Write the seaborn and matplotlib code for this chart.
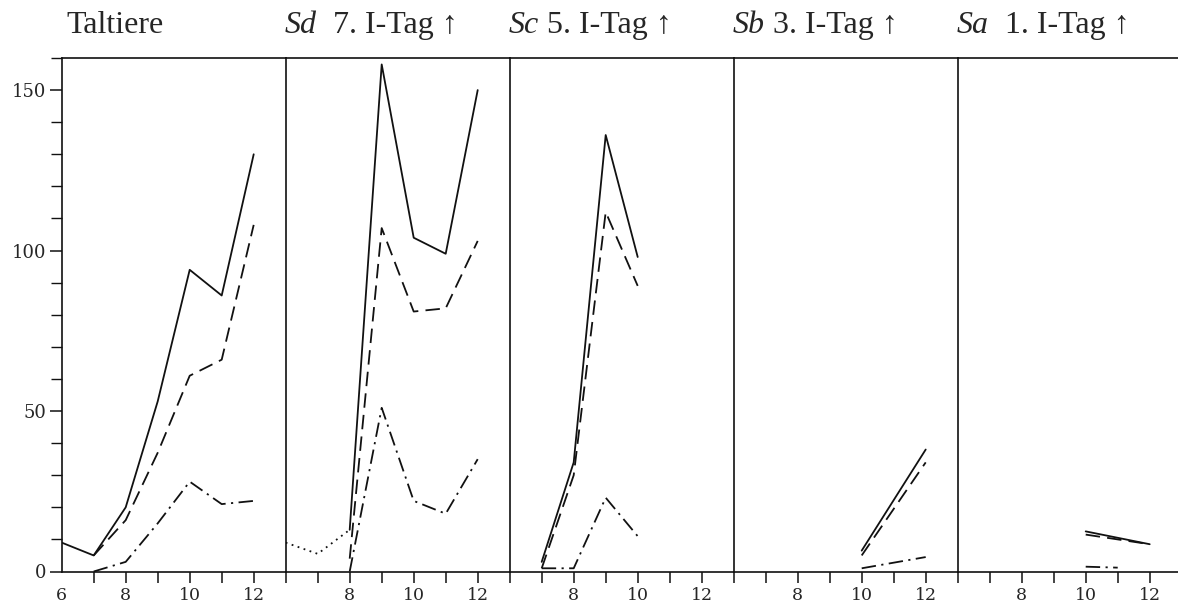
import matplotlib
matplotlib.use("Agg")
import matplotlib.pyplot as plt
from matplotlib.ticker import MultipleLocator
import seaborn as sns

sns.set_style("ticks")
plt.rcParams['font.family'] = ['DejaVu Serif', 'Liberation Serif']

# ---------------- data ----------------
panel_italic = ["", "Sd", "Sc", "Sb", "Sa"]
panel_rest = ["Taltiere", "  7. I-Tag \u2191", " 5. I-Tag \u2191", " 3. I-Tag \u2191", "  1. I-Tag \u2191"]

# Taltiere
p1_solid_x = [6, 7, 8, 9, 10, 11, 12]
p1_solid_y = [9, 5, 20, 53, 94, 86, 130]
p1_dash_x = [7, 8, 9, 10, 11, 12]
p1_dash_y = [5, 16, 37, 61, 66, 108]
p1_dd_x = [7, 8, 9, 10, 11, 12]
p1_dd_y = [0, 3, 15, 28, 21, 22]

# Sd 7. I-Tag
p2_dot_x = [6, 7, 8]
p2_dot_y = [9, 5.5, 13]
p2_solid_x = [8, 9, 10, 11, 12]
p2_solid_y = [13, 158, 104, 99, 150]
p2_dash_x = [8, 9, 10, 11, 12]
p2_dash_y = [4, 107, 81, 82, 103]
p2_dd_x = [8, 9, 10, 11, 12]
p2_dd_y = [0, 51, 22, 18, 35]

# Sc 5. I-Tag
p3_solid_x = [7, 8, 9, 10]
p3_solid_y = [3, 34, 136, 98]
p3_dash_x = [7, 8, 9, 10]
p3_dash_y = [1, 30, 112, 89]
p3_dd_x = [7, 8, 9, 10]
p3_dd_y = [1, 1, 23, 11]

# Sb 3. I-Tag
p4_solid_x = [10, 12]
p4_solid_y = [6.5, 38]
p4_dash_x = [10, 12]
p4_dash_y = [5, 34]
p4_dd_x = [10, 12]
p4_dd_y = [1, 4.5]

# Sa 1. I-Tag
p5_solid_x = [10, 12]
p5_solid_y = [12.5, 8.5]
p5_dash_x = [10, 12]
p5_dash_y = [11.5, 8.5]
p5_dd_x = [10, 11]
p5_dd_y = [1.5, 1.2]

panels = [
    [(p1_solid_x, p1_solid_y, "solid"), (p1_dash_x, p1_dash_y, "dash"), (p1_dd_x, p1_dd_y, "dashdot")],
    [(p2_dot_x, p2_dot_y, "dot"), (p2_solid_x, p2_solid_y, "solid"), (p2_dash_x, p2_dash_y, "dash"), (p2_dd_x, p2_dd_y, "dashdot")],
    [(p3_solid_x, p3_solid_y, "solid"), (p3_dash_x, p3_dash_y, "dash"), (p3_dd_x, p3_dd_y, "dashdot")],
    [(p4_solid_x, p4_solid_y, "solid"), (p4_dash_x, p4_dash_y, "dash"), (p4_dd_x, p4_dd_y, "dashdot")],
    [(p5_solid_x, p5_solid_y, "solid"), (p5_dash_x, p5_dash_y, "dash"), (p5_dd_x, p5_dd_y, "dashdot")],
]

styles = {
    "solid": "-",
    "dash": (0, (8, 4)),
    "dashdot": (0, (8, 3, 1.2, 3)),
    "dot": (0, (1, 2.5)),
}

# ---------------- layout ----------------
W, H = 1178, 604
fig = plt.figure(figsize=(W / 100, H / 100), dpi=100)
fig.patch.set_facecolor("white")

left0 = 61.7
pw = 224.0
bottom_px = 571.5
top_px = 58.0

title_font = ['Liberation Serif', 'DejaVu Serif']
axes = []
for i, series in enumerate(panels):
    ax = fig.add_axes([(left0 + i * pw) / W, (H - bottom_px) / H, pw / W, (bottom_px - top_px) / H])
    ax.set_facecolor("white")
    for xs, ys, st in series:
        sns.lineplot(x=xs, y=ys, ax=ax, color="#111111", linewidth=1.3,
                     linestyle=styles[st], errorbar=None, sort=False)
    ax.set_xlim(6, 13)
    ax.set_ylim(0, 160)
    for s in ["left", "top", "bottom"]:
        ax.spines[s].set_visible(True)
        ax.spines[s].set_color("#111111")
        ax.spines[s].set_linewidth(1.2)
    ax.spines["right"].set_visible(i == 4)
    ax.spines["right"].set_color("#111111")

    ax.set_xticks([6, 7, 8, 9, 10, 11, 12])
    if i == 0:
        ax.set_xticklabels(["6", "", "8", "", "10", "", "12"])
        ax.set_yticks([0, 50, 100, 150])
        ax.set_yticklabels(["0", "50", "100", "150"])
        ax.yaxis.set_minor_locator(MultipleLocator(10))
        ax.tick_params(axis="y", which="major", length=9, width=1.1, pad=2,
                       labelsize=13, direction="out", color="#111111")
        ax.tick_params(axis="y", which="minor", length=8, width=1.0, direction="out", color="#111111")
    else:
        ax.set_xticklabels(["", "", "8", "", "10", "", "12"])
        ax.set_yticks([])
        ax.tick_params(axis="y", left=False, labelleft=False)
    ax.tick_params(axis="x", which="major", length=8, width=1.1, pad=3,
                   labelsize=12.5, direction="out", color="#111111")
    if i == 0:
        ax.xaxis.get_major_ticks()[0].tick1line.set_visible(False)
    ax.set_xlabel("")
    ax.set_ylabel("")
    axes.append(ax)

# ---------------- titles ----------------
fig.canvas.draw()
renderer = fig.canvas.get_renderer()
title_base = 1 - 33.0 / H
for i in range(5):
    x0 = (left0 + i * pw + (5 if i == 0 else -1)) / W
    if panel_italic[i]:
        t = fig.text(x0, title_base, panel_italic[i], fontsize=23, style="italic",
                     family=title_font, va="baseline", ha="left")
        bb = t.get_window_extent(renderer=renderer)
        x1 = bb.x1 / W
        fig.text(x1, title_base, panel_rest[i], fontsize=23, family=title_font,
                 va="baseline", ha="left")
    else:
        fig.text(x0, title_base, panel_rest[i], fontsize=23, family=title_font,
                 va="baseline", ha="left")

fig.savefig("out.png", dpi=100, facecolor="white")
